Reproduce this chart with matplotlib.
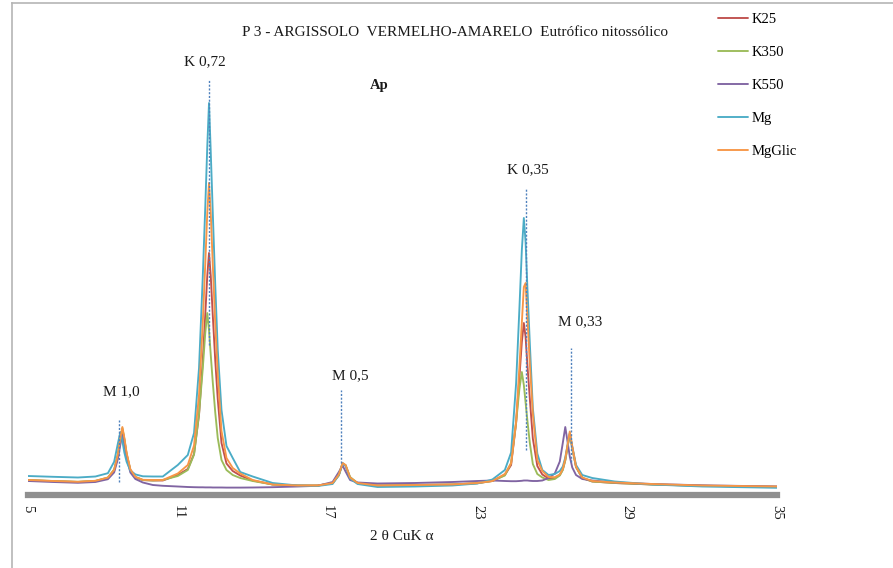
import matplotlib
matplotlib.use('Agg')
import matplotlib.pyplot as plt
from matplotlib.lines import Line2D

# ---------------- data ----------------
two_theta = [
    5.0, 6.0, 7.0, 7.7, 8.2, 8.45, 8.6, 8.7, 8.78, 8.86, 8.95, 9.1, 9.3, 9.6,
    10.0, 10.4, 11.0, 11.4, 11.65, 11.85, 12.0, 12.1, 12.18, 12.25, 12.32, 12.4, 12.5, 12.6, 12.75, 12.95, 13.2, 13.5, 14.0, 14.8,
    15.8, 16.6, 17.2, 17.45, 17.6, 17.72, 17.9, 18.2, 19.0, 20.5, 22.0, 23.0,
    23.6, 24.1, 24.35, 24.55, 24.68, 24.78, 24.86, 24.93, 25.0, 25.1, 25.22, 25.4, 25.6, 25.85,
    26.1, 26.3, 26.42, 26.52, 26.6, 26.7, 26.8, 26.95, 27.2, 27.6, 28.5, 30.0, 32.0, 35.0,
]

k25 = [
    148, 138, 130, 139, 170, 244, 392, 550, 655, 550, 407, 250, 178, 149,
    145, 145, 200, 260, 410, 800, 1345, 1800, 2190, 2420, 2190, 1800, 1345, 960, 520, 315, 240, 195, 145, 105,
    95, 95, 118, 200, 315, 295, 170, 118, 95, 100, 105, 118,
    140, 200, 300, 720, 1165, 1530, 1720, 1580, 1310, 960, 565, 290, 205, 165,
    170, 200, 255, 350, 470, 610, 470, 280, 170, 135, 120, 105, 92, 82,
]

k350 = [
    150, 140, 132, 141, 175, 255, 410, 565, 670, 560, 410, 250, 178, 150,
    145, 150, 190, 250, 405, 810, 1265, 1620, 1820, 1650, 1400, 1130, 825, 570, 350, 250, 200, 170, 140, 105,
    95, 95, 118, 195, 310, 300, 180, 120, 95, 100, 105, 118,
    140, 195, 320, 725, 1055, 1230, 1100, 925, 750, 520, 310, 210, 175, 150,
    160, 195, 250, 345, 465, 600, 470, 280, 170, 135, 120, 105, 92, 82,
]

k550 = [
    140, 130, 122, 130, 158, 226, 360, 505, 600, 500, 370, 225, 160, 125,
    100, 92, 85, 80, 78, 77, 77, 76, 76, 76, 76, 75, 75, 75, 75, 74, 74, 74, 75, 78,
    85, 92, 130, 230, 295, 235, 150, 125, 115, 120, 130, 140,
    145, 140, 138, 138, 140, 142, 145, 145, 145, 142, 140, 140, 145, 170,
    215, 335, 520, 680, 550, 385, 275, 200, 160, 145, 125, 110, 97, 85,
]

mg = [
    190, 182, 175, 185, 218, 332, 515, 630, 538, 424, 332, 245, 206, 187,
    185, 185, 300, 400, 620, 1270, 2180, 2880, 3480, 3920, 3430, 2830, 2100, 1450, 850, 490, 370, 230, 185, 120,
    95, 90, 110, 200, 320, 290, 165, 110, 80, 85, 95, 115,
    155, 250, 425, 1115, 1850, 2450, 2770, 2530, 2090, 1515, 870, 415, 250, 200,
    210, 240, 285, 375, 485, 620, 485, 300, 200, 170, 135, 105, 85, 72,
]

mgglic = [
    150, 140, 132, 142, 174, 251, 405, 570, 680, 570, 421, 257, 182, 152,
    150, 150, 215, 300, 495, 1000, 1720, 2310, 2820, 3120, 2820, 2310, 1710, 1210, 640, 370, 270, 215, 150, 105,
    95, 95, 120, 205, 320, 300, 175, 120, 95, 100, 105, 120,
    140, 210, 318, 734, 1270, 1724, 2080, 2120, 1790, 1310, 815, 350, 240, 180,
    178, 205, 262, 360, 485, 635, 485, 285, 175, 140, 125, 110, 95, 85,
]

series_names = ['K25', 'K350', 'K550', 'Mg', 'MgGlic']
series_values = [k25, k350, k550, mg, mgglic]
series_colors = ['#c0504d', '#9bbb59', '#8064a2', '#4bacc6', '#f79646']

x_ticks = [5, 11, 17, 23, 29, 35]
x_tick_labels = ['5', '11', '17', '23', '29', '35']

peak_labels = ['M 1,0', 'K 0,72', 'M 0,5', 'K 0,35', 'M 0,33']
peak_2theta = [8.64, 12.25, 17.53, 24.93, 26.75]
marker_top = [750, 4150, 1050, 3070, 1470]
marker_bottom = [130, 1500, 320, 450, 330]
label_x = [8.72, 12.09, 17.9, 25.02, 27.1]
label_y = [1030, 4330, 1190, 3250, 1730]

title = 'P 3 - ARGISSOLO  VERMELHO-AMARELO  Eutrófico nitossólico'

# ---------------- figure ----------------
plt.rcParams['font.family'] = ['Liberation Serif', 'DejaVu Serif']

W, H = 893, 568
fig = plt.figure(figsize=(W / 100, H / 100), dpi=100)
ax = fig.add_axes([28 / W, 73 / H, (777 - 28) / W, (495 - 30) / H])
ax.set_xlim(5, 35)
ax.set_ylim(0, 4650)

for name, vals, col in zip(series_names, series_values, series_colors):
    ax.plot(two_theta, vals, color=col, lw=1.35, label=name,
            solid_joinstyle='round', solid_capstyle='round')

for lab, px, top, bot, lx, ly in zip(peak_labels, peak_2theta, marker_top, marker_bottom, label_x, label_y):
    ax.plot([px, px], [bot, top], color='#4f81bd', lw=1.0, ls=(0, (1.5, 1.2)), zorder=6)
    ax.text(lx, ly, lab, ha='center', va='center', fontsize=11, color='#1a1a1a')

for s in ['left', 'right', 'top']:
    ax.spines[s].set_visible(False)
ax.spines['bottom'].set_color('#8f8f8f')
ax.spines['bottom'].set_linewidth(4.5)
ax.set_yticks([])
ax.set_xticks(x_ticks)
ax.set_xticklabels(x_tick_labels, rotation=270)
ax.tick_params(axis='x', length=0, pad=7, labelsize=10.5, labelcolor='#1a1a1a')

fig.text(402 / W, 1 - 537 / H, '2 θ CuK α', ha='center', va='center', fontsize=11, color='#1a1a1a')
fig.text(455 / W, 1 - 32 / H, title, ha='center', va='center', fontsize=11, color='#1a1a1a')
fig.text(379 / W, 1 - 85 / H, 'Ap', ha='center', va='center', fontsize=10.5, fontweight='bold', color='#1a1a1a')

fig.legend(loc='upper left', bbox_to_anchor=(712 / W, 1 - 7 / H), frameon=False, fontsize=10.5,
           handlelength=2.1, labelspacing=1.35, handletextpad=0.25, borderaxespad=0)

fig.add_artist(Line2D([12 / W, 12 / W], [0, 1 - 3 / H], transform=fig.transFigure, color='#b5b5b5', lw=1.2))
fig.add_artist(Line2D([12 / W, 1], [1 - 3 / H, 1 - 3 / H], transform=fig.transFigure, color='#b5b5b5', lw=1.2))

fig.savefig('out.png', dpi=100)
